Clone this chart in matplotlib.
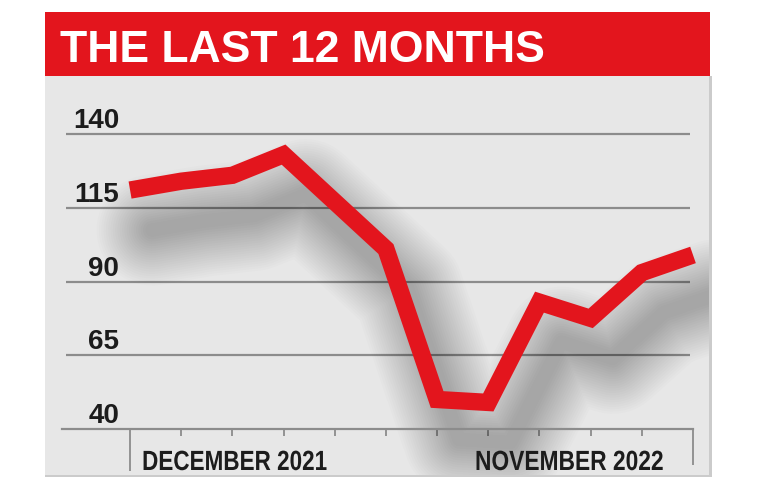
import numpy as np
import matplotlib.pyplot as plt
from matplotlib.patches import Rectangle
from matplotlib.transforms import ScaledTranslation, Affine2D
from matplotlib.patheffects import AbstractPathEffect

months = ['Dec 2021', 'Jan 2022', 'Feb 2022', 'Mar 2022', 'Apr 2022', 'May 2022',
          'Jun 2022', 'Jul 2022', 'Aug 2022', 'Sep 2022', 'Oct 2022', 'Nov 2022']
values = [121, 124, 126, 133, 117, 101, 50, 49, 83, 77.5, 93, 99]
yticks = [40, 65, 90, 115, 140]
first_label = 'DECEMBER 2021'
last_label = 'NOVEMBER 2022'
title = 'THE LAST 12 MONTHS'

W, H = 768, 492
red = '#e3151d'
grid_col = '#8c8c8c'
text_col = '#1c1c1c'
sans = ['Liberation Sans', 'DejaVu Sans']


class Squeeze(AbstractPathEffect):
    # narrows the glyphs horizontally (no condensed font installed)
    def __init__(self, sx):
        super().__init__()
        self.sx = sx

    def draw_path(self, renderer, gc, tpath, affine, rgbFace=None):
        renderer.draw_path(gc, tpath, Affine2D().scale(self.sx, 1) + affine, rgbFace)


def fx(x):
    return x / W


def fy(y):
    return 1 - y / H


fig = plt.figure(figsize=(W / 100, H / 100), dpi=100)
fig.patch.set_facecolor('white')

# background: grey panel and red banner
bg = fig.add_axes([0, 0, 1, 1])
bg.set_xlim(0, W)
bg.set_ylim(H, 0)
bg.axis('off')
bg.set_zorder(0)
bg.add_patch(Rectangle((45, 76), 667, 401, facecolor='#cbcbcb', lw=0))
panel = Rectangle((45, 76), 664, 399, facecolor='#e7e7e7', lw=0)
bg.add_patch(panel)
bg.add_patch(Rectangle((45, 12), 665, 64, facecolor=red, lw=0))
bg.text(60, 62, title, color='white', fontsize=32, fontweight='bold',
        family=sans, ha='left', va='baseline')

ax = fig.add_axes([fx(62), fy(429), fx(693) - fx(62), fy(95) - fy(429)])
ax.set_zorder(1)
ax.set_facecolor('none')
x = np.arange(len(months))
ax.set_xlim(-1.33, len(months) - 1)
ax.set_ylim(40, 40 + (429 - 95) / 2.95)

for s in ['top', 'left', 'right']:
    ax.spines[s].set_visible(False)
ax.spines['bottom'].set_color(grid_col)
ax.spines['bottom'].set_linewidth(1.6)

ax.hlines(yticks[1:], -1.25, len(months) - 1.05, color=grid_col, lw=1.6, zorder=1)

ax.set_yticks([])
ax.set_xticks(x)
ax.tick_params(axis='x', length=5, width=1.3, color=grid_col, labelbottom=False)
ticks = ax.xaxis.get_major_ticks()
ticks[0].tick1line.set_markersize(30)
ticks[-1].tick1line.set_markersize(26)

for v in yticks:
    ax.annotate(str(v), xy=(0, v), xytext=(-11, 6), textcoords='offset pixels',
                ha='right', va='baseline', fontsize=20, fontweight='bold',
                color=text_col, family=sans)

ax.annotate(first_label, xy=(0, 40), xytext=(12, -41), textcoords='offset pixels',
            ha='left', va='baseline', fontsize=20, fontweight='bold', color=text_col,
            family=sans, annotation_clip=False, path_effects=[Squeeze(0.81)])
ax.annotate(last_label, xy=(len(months) - 1, 40), xytext=(-218, -41), textcoords='offset pixels',
            ha='left', va='baseline', fontsize=20, fontweight='bold', color=text_col,
            family=sans, annotation_clip=False, path_effects=[Squeeze(0.82)])

# soft drop shadow under the line, kept inside the grey panel
shift = ScaledTranslation(22 / 100, -40 / 100, fig.dpi_scale_trans)
for w in np.linspace(10, 80, 22):
    sh, = ax.plot(x, values, color='black', lw=w, alpha=0.012, solid_joinstyle='round',
                  solid_capstyle='round', transform=ax.transData + shift, zorder=2)
    sh.set_clip_path(panel)

ax.plot(x, values, color=red, lw=12.5, solid_joinstyle='miter', solid_capstyle='butt',
        zorder=3, clip_on=False)

fig.savefig('out.png', dpi=100)
